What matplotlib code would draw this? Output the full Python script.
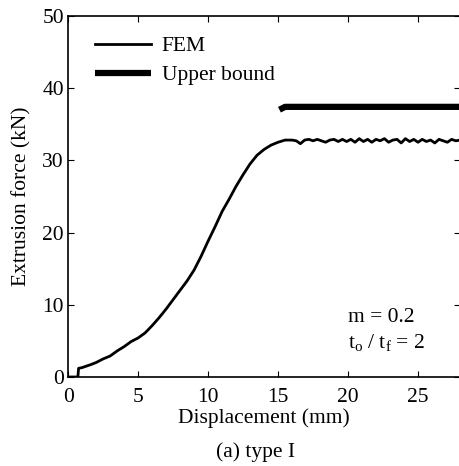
import matplotlib.pyplot as plt

# FEM load-displacement curve
disp = [0, 0.7, 0.75, 1.0, 1.3, 1.6, 2.0, 2.5, 3.0, 3.5, 4.0, 4.5, 5.0, 5.5, 6.0,
        6.5, 7.0, 7.5, 8.0, 8.5, 9.0, 9.5, 10.0, 10.5, 11.0, 11.5, 12.0, 12.5,
        13.0, 13.5, 14.0, 14.5, 15.0, 15.5, 16.0, 16.3, 16.6, 16.9, 17.2, 17.5,
        17.8, 18.1, 18.4, 18.7, 19.0, 19.3, 19.6, 19.9, 20.2, 20.5, 20.8, 21.1,
        21.4, 21.7, 22.0, 22.3, 22.6, 22.9, 23.2, 23.5, 23.8, 24.1, 24.4, 24.7,
        25.0, 25.3, 25.6, 25.9, 26.2, 26.5, 26.8, 27.1, 27.4, 27.7, 28.0]
force = [0, 0, 1.2, 1.3, 1.5, 1.7, 2.0, 2.5, 2.9, 3.6, 4.2, 4.9, 5.4, 6.1, 7.1,
         8.2, 9.4, 10.7, 12.0, 13.3, 14.8, 16.7, 18.8, 20.8, 22.9, 24.6, 26.4,
         28.0, 29.5, 30.7, 31.5, 32.1, 32.5, 32.8, 32.8, 32.7, 32.3, 32.8, 32.9,
         32.7, 32.9, 32.7, 32.5, 32.8, 32.9, 32.6, 32.9, 32.6, 32.9, 32.5, 33.0,
         32.6, 32.9, 32.5, 32.9, 32.7, 33.0, 32.5, 32.8, 32.9, 32.4, 33.0, 32.6,
         32.9, 32.5, 32.9, 32.6, 32.8, 32.4, 32.9, 32.7, 32.5, 32.9, 32.7, 32.8]

# upper bound solution
ub_disp = [15.1, 15.5, 28.0]
ub_force = [37.0, 37.4, 37.4]

plt.rcParams['font.family'] = ['Liberation Serif', 'DejaVu Serif']
plt.rcParams['mathtext.fontset'] = 'stix'

fs = 15.5
fig = plt.figure(figsize=(4.6, 4.66), dpi=100)
ax = fig.add_axes([0.148, 0.191, 0.852, 0.775])

ax.plot(disp, force, color='black', lw=2.0, label='FEM')
ax.plot(ub_disp, ub_force, color='black', lw=4.5, solid_capstyle='butt', label='Upper bound')

ax.set_xlim(0, 28)
ax.set_ylim(0, 50)
ax.set_xticks([0, 5, 10, 15, 20, 25])
ax.set_yticks([0, 10, 20, 30, 40, 50])
ax.tick_params(direction='in', top=True, right=True, labelsize=fs, length=4)
ax.tick_params(axis='x', pad=8)
ax.tick_params(axis='y', pad=3)
for s in ax.spines.values():
    s.set_linewidth(1.2)

ax.set_xlabel('Displacement (mm)', fontsize=fs, labelpad=1)
ax.set_ylabel('Extrusion force (kN)', fontsize=fs, labelpad=8)

ax.legend(loc='upper left', frameon=False, fontsize=fs, handlelength=2.6,
          handletextpad=0.5, borderaxespad=0.3, labelspacing=0.4,
          bbox_to_anchor=(0.03, 0.985))

ax.text(0.715, 0.19, 'm = 0.2\n$\\mathregular{t_o}$ / $\\mathregular{t_f}$ = 2',
        transform=ax.transAxes, fontsize=fs, linespacing=1.3, va='top')

fig.text(0.555, 0.02, '(a) type I', ha='center', fontsize=fs)

fig.savefig('out.png', dpi=100)
